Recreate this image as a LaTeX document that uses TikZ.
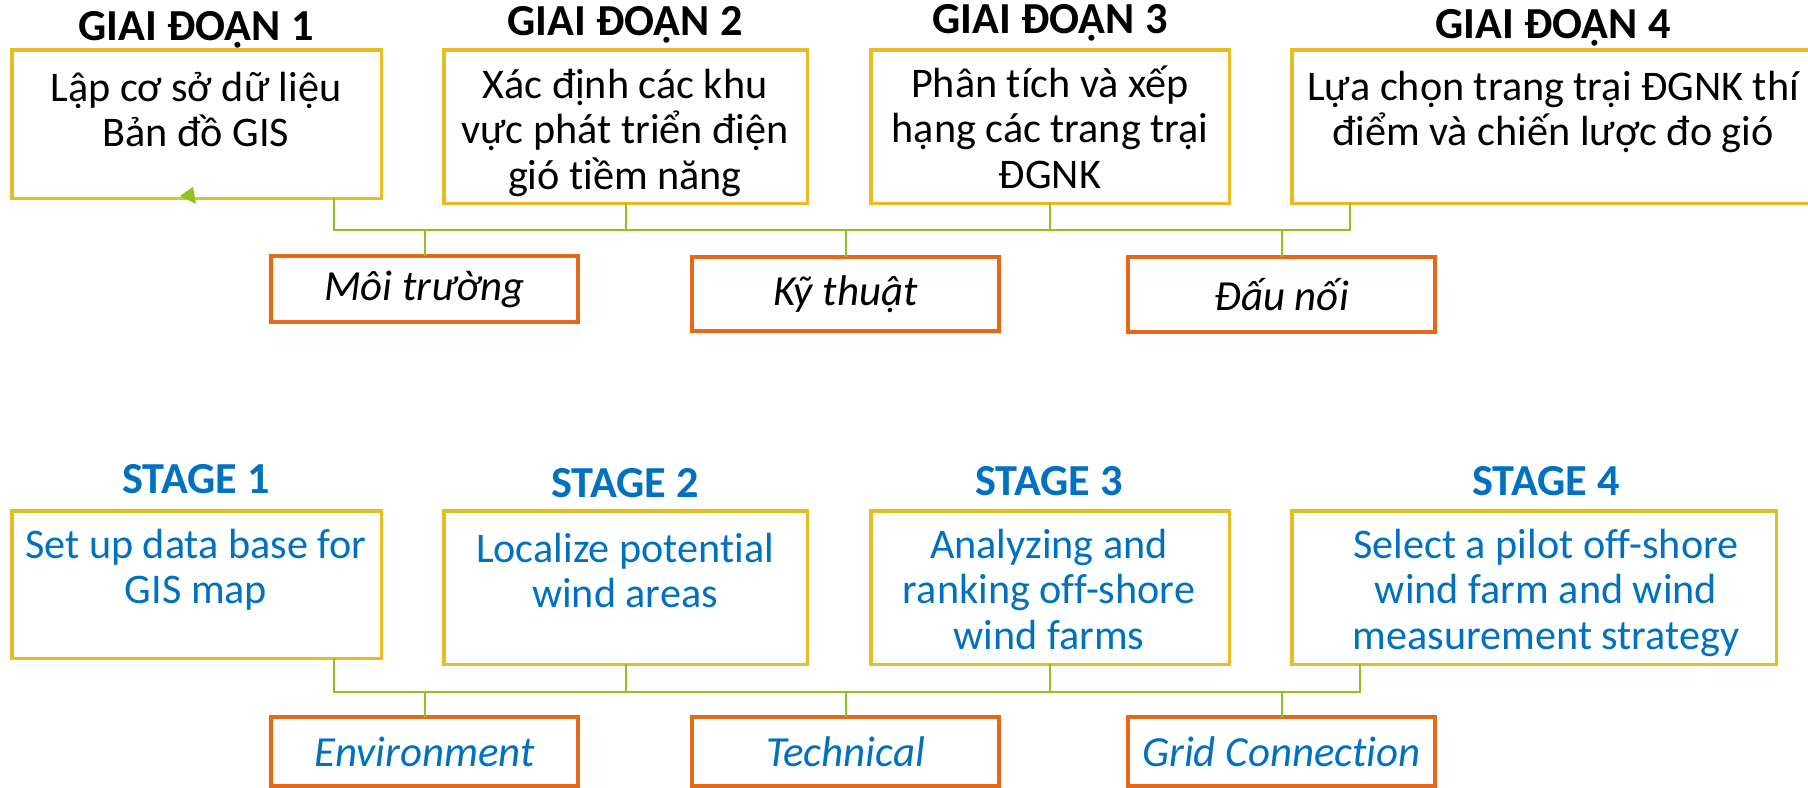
\documentclass[tikz,border=0pt]{standalone}
\usepackage{fontspec}
\setmainfont{Carlito}[Ligatures=NoCommon]
\usepackage{xcolor}
\usetikzlibrary{positioning}
\definecolor{boxyellow}{RGB}{232,188,34}
\definecolor{linkgreen}{RGB}{141,194,31}
\definecolor{critorange}{RGB}{232,104,26}
\definecolor{engblue}{RGB}{0,112,192}
% fixed top of the first text line, so every box starts its text at the same height
\newcommand{\linetop}{\rule{0pt}{11pt}}

\begin{document}
\begin{tikzpicture}[
    x=0.01cm, y=-0.01cm,
    stagebox/.style={draw=boxyellow, line width=0.9pt, anchor=north west, inner sep=0pt, outer sep=0pt},
    critbox/.style={draw=critorange, line width=1pt, anchor=north west, inner sep=0pt, outer sep=0pt,
        minimum width=3.07cm, font=\itshape\fontsize{12.2}{14}\selectfont},
    stagetitle/.style={anchor=base, inner sep=0pt, font=\bfseries\fontsize{12.6}{14}\selectfont},
    boxtext/.style={anchor=north, align=center, inner sep=0pt, font=\fontsize{12}{12.9}\selectfont},
    link/.style={draw=linkgreen, line width=0.6pt}
]
    \useasboundingbox (0,0) rectangle (1808,788);

    % ---- Vietnamese version (top)
    \node[stagebox, minimum width=3.69cm, minimum height=1.48cm] (g1) at (12,50) {};
    \node[stagebox, minimum width=3.63cm, minimum height=1.53cm] (g2) at (444,50) {};
    \node[stagebox, minimum width=3.58cm, minimum height=1.53cm] (g3) at (871,50) {};
    \node[stagebox, minimum width=5.22cm, minimum height=1.53cm] (g4) at (1292,50) {};

    \node[stagetitle] (gt1) at (196,41) {GIAI ĐOẠN 1};
    \node[stagetitle] (gt2) at (625,36) {GIAI ĐOẠN 2};
    \node[stagetitle] (gt3) at (1050,34) {GIAI ĐOẠN 3};
    \node[stagetitle] (gt4) at (1553,39) {GIAI ĐOẠN 4};

    \node[boxtext] (gx1) at (196,62) {\linetop Lập cơ sở dữ liệu\\Bản đồ GIS};
    \node[boxtext] (gx2) at (625,59) {\linetop Xác định các khu\\vực phát triển điện\\gió tiềm năng};
    \node[boxtext] (gx3) at (1050,58) {\linetop Phân tích và xếp\\hạng các trang trại\\ĐGNK};
    \node[boxtext] (gx4) at (1553,61) {\linetop Lựa chọn trang trại ĐGNK thí\\điểm và chiến lược đo gió};

    \node[critbox, minimum height=0.66cm] (c1) at (271,256) {Môi trường};
    \node[critbox, minimum height=0.74cm] (c2) at (692,257) {Kỹ thuật};
    \node[critbox, minimum height=0.75cm] (c3) at (1128,257) {Đấu nối};

    \coordinate (gbusw) at (334,230);
    \coordinate (gbuse) at (1350,230);
    \draw[link] (g1.south -| gbusw) -- (gbusw) -- (gbuse) -- (g4.south -| gbuse);
    \draw[link] (g2.south) -- (g2.south |- gbusw);
    \draw[link] (g3.south) -- (g3.south |- gbusw);
    \draw[link] (c1.north |- gbusw) -- (c1.north);
    \draw[link] (c2.north |- gbusw) -- (c2.north);
    \draw[link] (c3.north |- gbusw) -- (c3.north);
    % small arrow head left on the first box
    \fill[linkgreen] (180,196) -- (193,187) -- (196,204) -- cycle;

    % ---- English version (bottom)
    \begin{scope}[text=engblue]
    \node[stagebox, minimum width=3.69cm, minimum height=1.47cm] (e1) at (12,511) {};
    \node[stagebox, minimum width=3.63cm, minimum height=1.53cm] (e2) at (444,511) {};
    \node[stagebox, minimum width=3.58cm, minimum height=1.53cm] (e3) at (871,511) {};
    \node[stagebox, minimum width=4.84cm, minimum height=1.53cm] (e4) at (1292,511) {};

    \node[stagetitle] (et1) at (196,493) {STAGE 1};
    \node[stagetitle] (et2) at (625,498) {STAGE 2};
    \node[stagetitle] (et3) at (1049,495) {STAGE 3};
    \node[stagetitle] (et4) at (1546,495) {STAGE 4};

    \node[boxtext] (ex1) at (196,519) {\linetop Set up data base for\\GIS map};
    \node[boxtext] (ex2) at (625,523) {\linetop Localize potential\\wind areas};
    \node[boxtext] (ex3) at (1049,519) {\linetop Analyzing and\\ranking off-shore\\wind farms};
    \node[boxtext] (ex4) at (1546,519) {\linetop Select a pilot off-shore\\wind farm and wind\\measurement strategy};

    \node[critbox, minimum height=0.69cm] (d1) at (271,717) {Environment};
    \node[critbox, minimum height=0.69cm] (d2) at (692,717) {Technical};
    \node[critbox, minimum height=0.69cm] (d3) at (1128,717) {Grid Connection};
    \end{scope}

    \coordinate (ebusw) at (334,692);
    \coordinate (ebuse) at (1360,692);
    \draw[link] (e1.south -| ebusw) -- (ebusw) -- (ebuse) -- (e4.south -| ebuse);
    \draw[link] (e2.south) -- (e2.south |- ebusw);
    \draw[link] (e3.south) -- (e3.south |- ebusw);
    \draw[link] (d1.north |- ebusw) -- (d1.north);
    \draw[link] (d2.north |- ebusw) -- (d2.north);
    \draw[link] (d3.north |- ebusw) -- (d3.north);
\end{tikzpicture}
\end{document}
